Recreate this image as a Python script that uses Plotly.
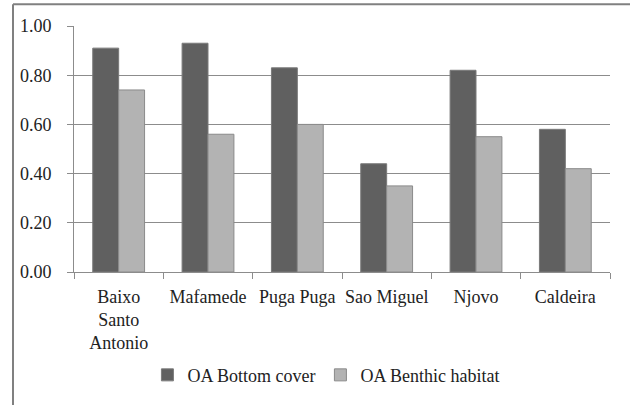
import plotly.graph_objects as go

categories = ["Baixo<br>Santo<br>Antonio", "Mafamede", "Puga Puga", "Sao Miguel", "Njovo", "Caldeira"]
bottom_cover = [0.91, 0.93, 0.83, 0.44, 0.82, 0.58]
benthic_habitat = [0.74, 0.56, 0.60, 0.35, 0.55, 0.42]
y_ticks = [0.0, 0.2, 0.4, 0.6, 0.8, 1.0]
y_tick_labels = ["0.00", "0.20", "0.40", "0.60", "0.80", "1.00"]

FONT = "Liberation Serif"
FS = 18

fig = go.Figure()
fig.add_trace(go.Bar(
    x=categories, y=bottom_cover, name="OA Bottom cover",
    marker=dict(color="#606060", line=dict(color="#7a7a7a", width=1)),
))
fig.add_trace(go.Bar(
    x=categories, y=benthic_habitat, name="OA Benthic habitat",
    marker=dict(color="#b3b3b3", line=dict(color="#8a8a8a", width=1)),
))

L, R, T, B = 74, 20, 26, 131
W, H = 630, 405
pw = W - L - R
ph = H - T - B

fig.update_layout(
    width=W, height=H,
    margin=dict(l=L, r=R, t=T, b=B),
    paper_bgcolor="white", plot_bgcolor="white",
    font=dict(family=FONT, size=FS, color="#222222"),
    barmode="group", bargap=0.42, bargroupgap=0,
    showlegend=True,
    legend=dict(orientation="h", x=0.47, xanchor="center", y=(274 - 378) / ph,
                yanchor="middle", font=dict(family=FONT, size=FS, color="#222222"),
                itemwidth=30, traceorder="normal"),
    xaxis=dict(
        type="category", showgrid=False, showline=True, linecolor="#8c8c8c", linewidth=1,
        ticks="outside", ticklen=6, tickcolor="#8c8c8c", tickson="boundaries",
        ticklabelstandoff=8, tickangle=0,
        tickfont=dict(family=FONT, size=FS, color="#222222"),
    ),
    yaxis=dict(
        range=[0, 1.0], tickvals=y_ticks, ticktext=y_tick_labels,
        showgrid=True, gridcolor="#8c8c8c", gridwidth=1,
        showline=True, linecolor="#8c8c8c", linewidth=1,
        ticks="outside", ticklen=6, tickcolor="#8c8c8c",
        zeroline=False, ticklabelstandoff=12,
        tickfont=dict(family=FONT, size=FS, color="#222222"),
    ),
)

# outer chart frame (left and top edges visible in crop)
x_left = (13 - L) / pw
y_top = (ph + T - 4) / ph
fig.add_shape(type="line", xref="paper", yref="paper", x0=x_left, x1=(W - L + 5) / pw,
              y0=y_top, y1=y_top, line=dict(color="#808080", width=2))
fig.add_shape(type="line", xref="paper", yref="paper", x0=x_left, x1=x_left,
              y0=y_top, y1=-(B + 5) / ph, line=dict(color="#808080", width=2))

fig.write_html("out.html", config={"displayModeBar": False},
               post_script="document.body.style.margin='0';")
